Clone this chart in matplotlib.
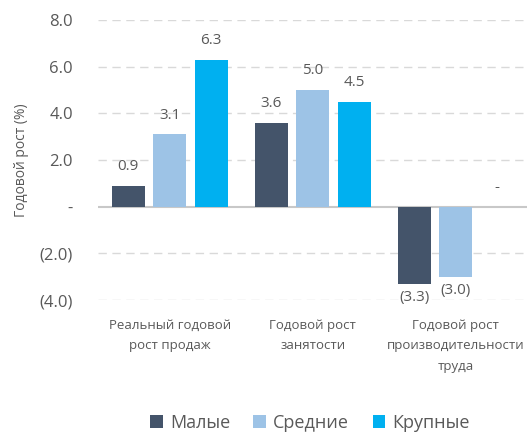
import matplotlib.pyplot as plt
import numpy as np

plt.rcParams['font.family'] = ['Open Sans', 'DejaVu Sans']

categories = ['Реальный годовой\nрост продаж', 'Годовой рост\nзанятости',
              'Годовой рост\nпроизводительности\nтруда']
series = ['Малые', 'Средние', 'Крупные']
small = [0.9, 3.6, -3.3]
medium = [3.1, 5.0, -3.0]
large = [6.3, 4.5, 0.0]
colors = ['#44546A', '#9DC3E6', '#00B0F0']
yticks = [-4, -2, 0, 2, 4, 6, 8]


def fmt(v):
	if abs(v) < 1e-9:
		return '-'
	if v < 0:
		return '(%.1f)' % abs(v)
	return '%.1f' % v


fig = plt.figure(figsize=(5.3, 4.4), dpi=100)
ax = fig.add_axes([0.185, 0.318, 0.81, 0.637])

x = np.arange(len(categories))
width = 0.23
offset = 0.29
text_col = '#595959'
for i, (name, vals) in enumerate(zip(series, [small, medium, large])):
	pos = x + (i - 1) * offset
	ax.bar(pos, vals, width, color=colors[i], label=name, zorder=3)
	for p, v in zip(pos, vals):
		if v >= 0:
			ax.text(p, v + 0.5, fmt(v), ha='center', va='bottom', fontsize=11, color=text_col)
		else:
			ax.text(p, v - 0.25, fmt(v), ha='center', va='top', fontsize=11, color=text_col)

ax.set_xlim(-0.5, 2.5)
ax.set_ylim(-4, 8)
ax.set_yticks(yticks)
ax.set_yticklabels([fmt(t) for t in yticks], fontsize=12, color=text_col)
ax.set_xticks([])
for t in yticks:
	if t == 0:
		ax.axhline(t, color='#C8C8C8', lw=1.5, zorder=2)
	else:
		ax.axhline(t, color='#D9D9D9', lw=1, ls=(0, (6, 4)), zorder=1)
for s in ax.spines.values():
	s.set_visible(False)
ax.tick_params(axis='y', length=0, pad=18)

for xi, lab in zip(x, categories):
	ax.text(xi, -4.8, lab, ha='center', va='top', fontsize=9.5, color=text_col, linespacing=1.75)

ax.set_ylabel('Годовой рост (%)', fontsize=10, color=text_col, labelpad=8)

fig.legend(loc='lower center', bbox_to_anchor=(0.585, -0.018), ncol=3, frameon=False,
           fontsize=13, handlelength=0.7, handleheight=0.7, handletextpad=0.4,
           columnspacing=1.3, labelcolor=text_col)

fig.savefig('out.png', dpi=100)
